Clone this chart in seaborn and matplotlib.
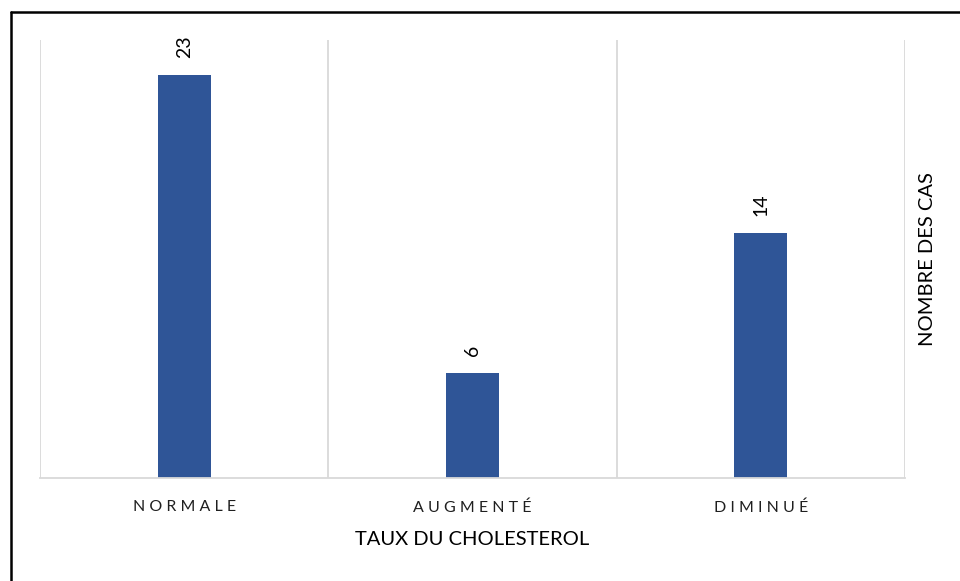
import matplotlib
matplotlib.use("Agg")
import matplotlib.pyplot as plt
from matplotlib.lines import Line2D
import seaborn as sns
import pandas as pd

categories = ["NORMALE", "AUGMENTÉ", "DIMINUÉ"]
counts = [23, 6, 14]
x_title = "TAUX DU CHOLESTEROL"
y_title = "NOMBRE DES CAS"

bar_color = "#2F5597"
grid_color = "#D9D9D9"

sns.set_theme(style="white")
plt.rcParams["font.family"] = ["Lato", "DejaVu Sans"]

df = pd.DataFrame({"taux": categories, "cas": counts})

fig = plt.figure(figsize=(9.6, 5.81), dpi=100)
ax = fig.add_axes([40 / 960, 1 - 478 / 581, 865 / 960, 438 / 581])

sns.barplot(data=df, x="taux", y="cas", color=bar_color, width=0.184,
            saturation=1, ax=ax, edgecolor="none")

ax.set_xlim(-0.5, len(categories) - 0.5)
ax.set_ylim(0, 25)

# vertical separators between categories
ax.set_xticks([i - 0.5 for i in range(len(categories) + 1)], minor=True)
ax.grid(True, which="minor", axis="x", color=grid_color, linewidth=1.3)
ax.grid(False, which="major")
ax.set_axisbelow(True)

ax.set_yticks([])
ax.tick_params(axis="x", which="both", length=0, pad=16)
ax.set_xticks(range(len(categories)))
ax.set_xticklabels([" ".join(c) for c in categories], fontsize=11.5,
                   color="#1F1F1F")

for side in ["top", "left", "right"]:
    ax.spines[side].set_visible(False)
ax.spines["bottom"].set_color(grid_color)
ax.spines["bottom"].set_linewidth(1.3)

ax.set_xlabel(x_title, fontsize=14.5, color="black", labelpad=12)
ax.yaxis.set_label_position("right")
ax.set_ylabel(y_title, fontsize=14.5, color="black", labelpad=10)

for i, v in enumerate(counts):
    ax.annotate(str(v), (i, v), xytext=(0, 12), textcoords="offset points",
                rotation=90, ha="center", va="bottom", fontsize=14,
                color="black")

# frame edges along the top and left of the figure
fig.add_artist(Line2D([11 / 960, 1], [1 - 12 / 581, 1 - 12 / 581],
                      transform=fig.transFigure, color="black", linewidth=1.8))
fig.add_artist(Line2D([11 / 960, 11 / 960], [0, 1 - 12 / 581],
                      transform=fig.transFigure, color="black", linewidth=1.8))

fig.savefig("out.png", dpi=100, facecolor="white")
